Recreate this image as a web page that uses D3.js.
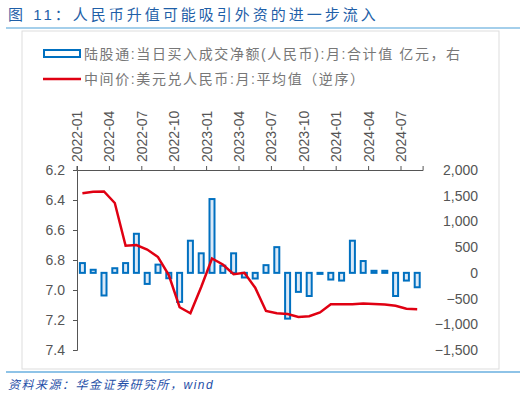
<!DOCTYPE html>
<html><head><meta charset="utf-8">
<script src="https://cdn.jsdelivr.net/npm/d3@7"></script>
<style>body{margin:0;background:#fff}</style></head>
<body><svg id="c" width="527" height="401"></svg>
<script>
const months = [];
for (let y = 2022; y <= 2024; y++) for (let m = 1; m <= 12; m++) { if (y === 2024 && m > 8) break; months.push(y + "-" + String(m).padStart(2, "0")); }
const flows = [190,60,-440,90,190,760,-215,160,-105,-565,625,380,1435,140,380,-90,-110,150,500,-890,-370,-450,-20,-130,-150,625,230,40,40,-450,-150,-280];
const fx = [6.355,6.345,6.343,6.42,6.705,6.70,6.73,6.78,6.90,7.115,7.155,6.98,6.79,6.83,6.895,6.885,6.985,7.14,7.155,7.16,7.18,7.175,7.15,7.095,7.095,7.095,7.09,7.093,7.097,7.105,7.125,7.128];
const leftTicks = [6.2,6.4,6.6,6.8,7.0,7.2,7.4];
const rightTicks = [2000,1500,1000,500,0,-500,-1000,-1500];
const xTicks = ["2022-01","2022-04","2022-07","2022-10","2023-01","2023-04","2023-07","2023-10","2024-01","2024-04","2024-07"];

const svg = d3.select("#c");
const font = "Arial, 'Liberation Sans', 'Noto Sans CJK SC', sans-serif";
svg.append("text").attr("x",8).attr("y",20).attr("fill","#1f5fa8").attr("font-size",15).attr("letter-spacing","3px").attr("font-family",font).text("图 11：人民币升值可能吸引外资的进一步流入");
svg.append("line").attr("x1",6).attr("x2",520).attr("y1",28).attr("y2",28).attr("stroke","#4a9fd8").attr("stroke-width",1.2);
svg.append("rect").attr("x",22).attr("y",31).attr("width",477).attr("height",338).attr("fill","none").attr("stroke","#ddd");
svg.append("line").attr("x1",6).attr("x2",520).attr("y1",372).attr("y2",372).attr("stroke","#1e88d0").attr("stroke-width",1.2);
svg.append("text").attr("x",8).attr("y",389).attr("fill","#1f4fa8").attr("font-size",12).attr("letter-spacing","1.5px").attr("font-style","italic").attr("font-family",font).text("资料来源：华金证券研究所，wind");

// legend
svg.append("rect").attr("x",44).attr("y",50).attr("width",36).attr("height",7).attr("fill","#fff").attr("stroke","#0070c0").attr("stroke-width",2);
svg.append("text").attr("x",84).attr("y",59).attr("fill","#777").attr("font-size",14).attr("letter-spacing","1.6px").attr("font-family",font).text("陆股通:当日买入成交净额(人民币):月:合计值 亿元，右");
svg.append("line").attr("x1",43).attr("x2",81).attr("y1",79).attr("y2",79).attr("stroke","#e00012").attr("stroke-width",2.5);
svg.append("text").attr("x",84).attr("y",84).attr("fill","#777").attr("font-size",14).attr("letter-spacing","1.6px").attr("font-family",font).text("中间价:美元兑人民币:月:平均值（逆序）");

const x = d3.scaleBand().domain(months).range([77, 77 + months.length * 10.8]);
const yL = d3.scaleLinear().domain([6.2, 7.4]).range([170, 350]);
const yR = d3.scaleLinear().domain([-1500, 2000]).range([350, 170]);

const gL = svg.append("g").attr("transform","translate(77,0)").call(d3.axisLeft(yL).tickValues(leftTicks).tickFormat(d3.format(".1f")).tickSize(4).tickPadding(8));
gL.selectAll("text").attr("font-size",14).attr("fill","#555").attr("font-family",font);
gL.selectAll("line,path").attr("stroke","#555");
const gR = svg.append("g").attr("transform","translate(478,0)").call(d3.axisLeft(yR).tickValues(rightTicks).tickFormat(d3.format(",")).tickSize(0).tickPadding(0));
gR.select(".domain").remove();
gR.selectAll("text").attr("font-size",14).attr("fill","#555").attr("font-family",font);

const gT = svg.append("g").attr("transform","translate(0,170)").call(d3.axisTop(x).tickValues(xTicks).tickSize(4).tickFormat(d=>d));
gT.selectAll("line,path").attr("stroke","#555");
gT.selectAll(".tick line").attr("transform", "translate(" + (-x.bandwidth()/2) + ",0)");
gT.selectAll(".tick text").attr("transform","rotate(-90)").attr("text-anchor","start").attr("x",8).attr("y",-x.bandwidth()/2).attr("dy","0.35em").attr("font-size",14).attr("fill","#555").attr("font-family",font);

svg.append("g").selectAll("rect").data(flows).join("rect")
  .attr("x",(d,i)=>x(months[i]) + x.bandwidth()/2 - 2.5).attr("width",5)
  .attr("y",d=>Math.min(yR(d),yR(0))).attr("height",d=>Math.max(1,Math.abs(yR(d)-yR(0))))
  .attr("fill","#dbe9f7").attr("stroke","#0070c0").attr("stroke-width",2);

svg.append("path").datum(fx).attr("fill","none").attr("stroke","#e00012").attr("stroke-width",2.5)
  .attr("d", d3.line().x((d,i)=>x(months[i]) + x.bandwidth()/2).y(d=>yL(d)));
</script></body></html>
